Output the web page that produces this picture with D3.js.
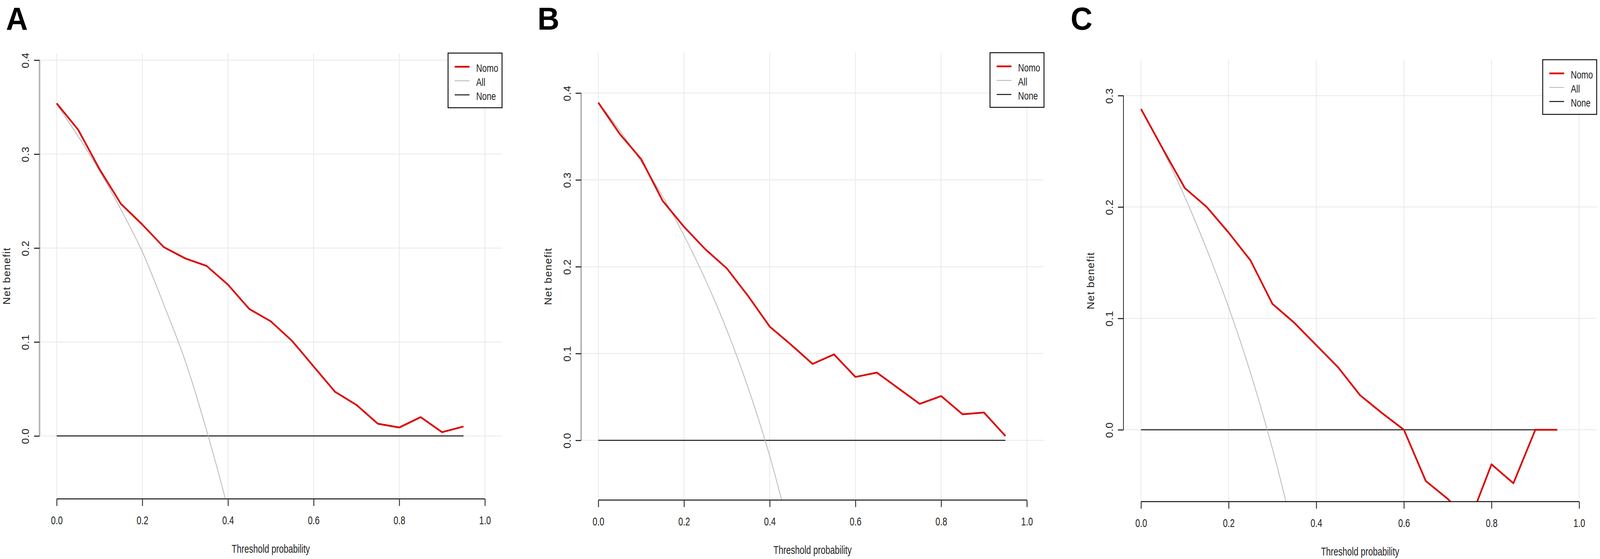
<!DOCTYPE html>
<html>
<head>
<meta charset="utf-8">
<script src="https://cdn.jsdelivr.net/npm/d3@7"></script>
<style>
  html, body { margin: 0; padding: 0; background: #fff; overflow: hidden; }
  svg { display: block; font-family: "Liberation Sans", Arial, sans-serif; }
</style>
</head>
<body>
<div id="chart"></div>
<script>
// decision curve data
const thresholds = [0, 0.05, 0.10, 0.15, 0.20, 0.25, 0.30, 0.35, 0.40, 0.45,
                    0.50, 0.55, 0.60, 0.65, 0.70, 0.75, 0.80, 0.85, 0.90, 0.95];

const nomoA = [0.354, 0.326, 0.284, 0.247, 0.225, 0.201, 0.189, 0.181, 0.161, 0.135,
               0.122, 0.101, 0.074, 0.047, 0.033, 0.013, 0.009, 0.020, 0.004, 0.010];
const nomoB = [0.389, 0.353, 0.324, 0.276, 0.246, 0.220, 0.198, 0.166, 0.131, 0.110,
               0.088, 0.099, 0.073, 0.078, 0.060, 0.042, 0.051, 0.030, 0.032, 0.005];
const nomoC = [0.288, 0.252, 0.217, 0.200, 0.177, 0.152, 0.113, 0.096, 0.076, 0.056,
               0.031, 0.015, 0.000, -0.046, -0.062, -0.082, -0.031, -0.048, 0.000, 0.000];

// "treat all" curves (only the part that is inside the plot + one point below)
const allA = [0.353, 0.319, 0.282, 0.241, 0.196, 0.140, 0.080, 0.006, -0.078, -0.176];
const allB = [0.389, 0.357, 0.321, 0.281, 0.236, 0.185, 0.127, 0.060, -0.018, -0.111];
const allC = [0.288, 0.251, 0.209, 0.162, 0.110, 0.051, -0.017, -0.095];

const noneBenefit = 0;

const xTicks = [0, 0.2, 0.4, 0.6, 0.8, 1.0];
const yTicksAB = [0, 0.1, 0.2, 0.3, 0.4];
const yTicksC = [0, 0.1, 0.2, 0.3];

const legendLabels = ["Nomo", "All", "None"];
const panelLetters = ["A", "B", "C"];

// layout of the three panels, in figure pixels (4328 x 1432)
const W = 4328, H = 1432;
const panels = [
  { letter: panelLetters[0], nomo: nomoA, all: allA, yTicks: yTicksAB,
    yDomain: [-0.067, 0.4075], box: {left: 107, top: 136, right: 1358, bottom: 1278},
    letterX: 16, axisColor: "#b0b0b0", axisWidth: 4 },
  { letter: panelLetters[1], nomo: nomoB, all: allB, yTicks: yTicksAB,
    yDomain: [-0.0688, 0.4465], box: {left: 1572, top: 135, right: 2824, bottom: 1281},
    letterX: 1454, axisColor: "#b0b0b0", axisWidth: 4 },
  { letter: panelLetters[2], nomo: nomoC, all: allC, yTicks: yTicksC,
    yDomain: [-0.0645, 0.3322], box: {left: 3039, top: 153, right: 4319, bottom: 1285},
    letterX: 2896, axisColor: "#222", axisWidth: 2 }
];

const styles = {
  Nomo: {stroke: "#dd0000", width: 4.5},
  All:  {stroke: "#b4b4b4", width: 2},
  None: {stroke: "#111", width: 2.5}
};

const squeeze = 0.76;

// the browser may give a narrower viewport than the figure, so fit the figure to it
const svg = d3.select("#chart")
  .append("svg")
  .attr("width", window.innerWidth || W)
  .attr("height", window.innerHeight || H)
  .attr("viewBox", `0 0 ${W} ${H}`)
  .attr("preserveAspectRatio", "none");

svg.append("rect").attr("width", W).attr("height", H).attr("fill", "#fff");

panels.forEach((p, i) => {
  const b = p.box;
  const x = d3.scaleLinear().domain([-0.04, 1.04]).range([b.left, b.right]);
  const y = d3.scaleLinear().domain(p.yDomain).range([b.bottom, b.top]);

  const g = svg.append("g");

  // panel letter
  g.append("text")
    .attr("x", p.letterX)
    .attr("y", 76)
    .attr("font-size", 82)
    .attr("font-weight", "bold")
    .attr("fill", "#000")
    .text(p.letter);

  const clipId = "clip" + i;
  svg.append("clipPath").attr("id", clipId)
    .append("rect")
    .attr("x", b.left).attr("y", b.top)
    .attr("width", b.right - b.left).attr("height", b.bottom - b.top);

  // grid
  g.selectAll(".vgrid").data(xTicks).enter()
    .append("line")
    .attr("x1", d => x(d)).attr("x2", d => x(d))
    .attr("y1", b.top).attr("y2", b.bottom)
    .attr("stroke", "#e8e8e8").attr("stroke-width", 2);

  g.selectAll(".hgrid").data(p.yTicks).enter()
    .append("line")
    .attr("x1", b.left).attr("x2", b.right)
    .attr("y1", d => y(d)).attr("y2", d => y(d))
    .attr("stroke", "#e8e8e8").attr("stroke-width", 2);

  const plot = g.append("g").attr("clip-path", `url(#${clipId})`);

  // None
  plot.append("line")
    .attr("x1", x(thresholds[0])).attr("x2", x(thresholds[thresholds.length - 1]))
    .attr("y1", y(noneBenefit)).attr("y2", y(noneBenefit))
    .attr("stroke", styles.None.stroke).attr("stroke-width", styles.None.width);

  // All
  const allLine = d3.line()
    .x((d, j) => x(thresholds[j]))
    .y(d => y(d))
    .curve(d3.curveMonotoneX);
  plot.append("path")
    .datum(p.all)
    .attr("d", allLine)
    .attr("fill", "none")
    .attr("stroke", styles.All.stroke)
    .attr("stroke-width", styles.All.width);

  // Nomo
  const nomoLine = d3.line()
    .x((d, j) => x(thresholds[j]))
    .y(d => y(d));
  plot.append("path")
    .datum(p.nomo)
    .attr("d", nomoLine)
    .attr("fill", "none")
    .attr("stroke", styles.Nomo.stroke)
    .attr("stroke-width", styles.Nomo.width)
    .attr("stroke-linejoin", "round");

  // x axis
  const gx = g.append("g")
    .attr("transform", `translate(0,${b.bottom})`)
    .call(d3.axisBottom(x).tickValues(xTicks).tickSize(18).tickSizeOuter(0).tickFormat(d3.format(".1f")));
  gx.select(".domain")
    .attr("d", `M${x(0)},0H${x(1)}`)
    .attr("stroke", "#111").attr("stroke-width", 2.5);
  gx.selectAll(".tick line").attr("stroke", "#333").attr("stroke-width", 2.5);
  gx.selectAll(".tick text")
    .attr("y", 55).attr("dy", "0.35em")
    .attr("transform", `scale(${squeeze},1)`)
    .attr("font-size", 30)
    .attr("font-family", "Liberation Sans, Arial, sans-serif")
    .attr("fill", "#222");

  // y axis
  const gy = g.append("g")
    .attr("transform", `translate(${b.left},0)`)
    .call(d3.axisLeft(y).tickValues(p.yTicks).tickSize(15).tickSizeOuter(0).tickFormat(d3.format(".1f")));
  gy.select(".domain")
    .attr("d", `M0,${y(0)}V${y(d3.max(p.yTicks))}`)
    .attr("stroke", p.axisColor).attr("stroke-width", p.axisWidth);
  gy.selectAll(".tick line").attr("stroke", "#111").attr("stroke-width", 2.5);
  gy.selectAll(".tick text")
    .attr("x", 0).attr("y", -38).attr("dy", "0.35em")
    .attr("transform", "rotate(-90)")
    .attr("text-anchor", "middle")
    .attr("font-size", 27)
    .attr("letter-spacing", 1)
    .attr("font-family", "Liberation Sans, Arial, sans-serif")
    .attr("fill", "#222");

  // axis titles
  g.append("text")
    .attr("transform", `translate(${x(0.5)},${b.bottom + 127}) scale(${squeeze},1)`)
    .attr("text-anchor", "middle")
    .attr("dy", "0.35em")
    .attr("font-size", 30)
    .attr("fill", "#222")
    .text("Threshold probability");

  g.append("text")
    .attr("transform", `translate(${b.left - 89},${(b.top + b.bottom) / 2}) rotate(-90)`)
    .attr("text-anchor", "middle")
    .attr("dy", "0.35em")
    .attr("font-size", 27)
    .attr("letter-spacing", 1.5)
    .attr("fill", "#222")
    .text("Net benefit");

  // legend
  const lw = 146, lh = 140;
  const legend = g.append("g")
    .attr("transform", `translate(${b.right - lw},${b.top})`);
  legend.append("rect")
    .attr("width", lw).attr("height", lh)
    .attr("fill", "#fff")
    .attr("stroke", "#111").attr("stroke-width", 2.5);

  legendLabels.forEach((n, k) => {
    const ly = 35 + k * 36;
    legend.append("line")
      .attr("x1", 18).attr("x2", 58)
      .attr("y1", ly).attr("y2", ly)
      .attr("stroke", styles[n].stroke)
      .attr("stroke-width", styles[n].width);
    legend.append("text")
      .attr("transform", `translate(76,${ly + 3}) scale(0.8,1)`)
      .attr("dy", "0.35em")
      .attr("font-size", 28)
      .attr("fill", "#222")
      .text(n);
  });
});
</script>
</body>
</html>
